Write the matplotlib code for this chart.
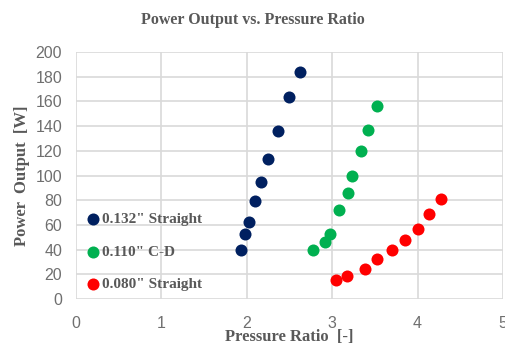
import numpy as np
import matplotlib.pyplot as plt

# ---------------------------------------------------------------------------
# Data
# ---------------------------------------------------------------------------
pr_132 = [1.93, 1.98, 2.03, 2.10, 2.17, 2.25, 2.36, 2.49, 2.62]
pw_132 = [40, 53, 62, 79, 95, 113, 136, 164, 184]

pr_110 = [2.77, 2.92, 2.97, 3.08, 3.19, 3.23, 3.34, 3.42, 3.52]
pw_110 = [40, 46, 53, 72, 86, 100, 120, 137, 156]

pr_080 = [3.05, 3.17, 3.39, 3.53, 3.70, 3.85, 4.00, 4.13, 4.27]
pw_080 = [15, 19, 24, 32, 40, 48, 57, 69, 81]

labels = ['0.132" Straight', '0.110" C-D', '0.080" Straight']
colors = ["#002060", "#00b050", "#ff0000"]

serif = ["Liberation Serif", "DejaVu Serif"]
gray = "#595959"

fig = plt.figure(figsize=(5.05, 3.47), dpi=100)
ax = fig.add_axes([0.1505, 0.1383, 0.8455, 0.7117])

for xs, ys, lab, c in zip([pr_132, pr_110, pr_080], [pw_132, pw_110, pw_080], labels, colors):
    ax.scatter(xs, ys, s=75, color=c, label=lab, zorder=3, linewidths=0)

ax.set_xlim(0, 5)
ax.set_ylim(0, 200)
ax.set_xticks(np.arange(0, 6, 1))
ax.set_yticks(np.arange(0, 201, 20))
ax.grid(True, color="#d9d9d9", linewidth=1.2)
ax.set_axisbelow(True)
for s in ax.spines.values():
    s.set_visible(False)
ax.tick_params(length=0, labelsize=11.5, colors="#6f6f6f")
ax.tick_params(axis="y", pad=10)
ax.tick_params(axis="x", pad=12)
for t in ax.get_xticklabels() + ax.get_yticklabels():
    t.set_family("Liberation Sans")

ax.set_xlabel("Pressure Ratio  [-]", family=serif, fontweight="bold", fontsize=12, color=gray, labelpad=-1)
ax.set_ylabel("Power  Output  [W]", family=serif, fontweight="bold", fontsize=12, color=gray, labelpad=4)
fig.suptitle("Power Output vs. Pressure Ratio", family=serif, fontweight="bold", fontsize=11.5, color=gray, y=0.965)

leg = ax.legend(loc="lower left", bbox_to_anchor=(0.0, 0.008), frameon=False,
                handletextpad=-0.1, labelspacing=1.22, borderaxespad=0.0, handlelength=1.4,
                prop={"family": serif, "weight": "bold", "size": 11})
for t in leg.get_texts():
    t.set_color(gray)

plt.savefig("out.png", dpi=100)
